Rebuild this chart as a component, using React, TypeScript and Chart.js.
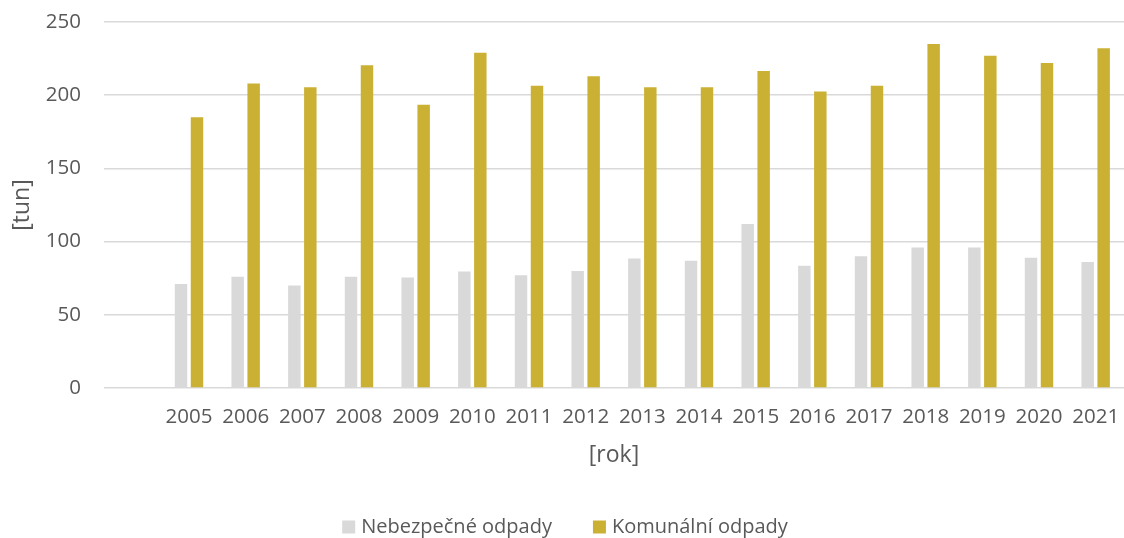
import React, { useEffect, useRef } from "react";
import { Chart, registerables } from "chart.js";

Chart.register(...registerables);

const categories = ["", "2005", "2006", "2007", "2008", "2009", "2010", "2011", "2012", "2013", "2014", "2015", "2016", "2017", "2018", "2019", "2020", "2021"];
const nebezpecne = [null, 71, 76, 70, 76, 75.5, 79.5, 77, 80, 88.5, 87, 112, 83.5, 90, 96, 96, 89, 86];
const komunalni = [null, 185, 208, 205.5, 220.5, 193.5, 229, 206.5, 213, 205.5, 205.5, 216.5, 202.5, 206.5, 235, 227, 222, 232];
const yTicks = [0, 50, 100, 150, 200, 250];

const FONT = "'Open Sans', 'DejaVu Sans', sans-serif";
const TEXT = "#595959";

const bottomLegend = {
  id: "bottomLegend",
  afterDraw(chart: any) {
    const ctx = chart.ctx;
    const size = 20;
    const box = 13;
    const gap = 6;
    const spacing = 41;
    const cy = 527;
    ctx.save();
    ctx.font = `${size}px ${FONT}`;
    ctx.textBaseline = "middle";
    ctx.textAlign = "left";
    const items = chart.data.datasets.map((d: any) => ({
      text: d.label,
      color: d.backgroundColor,
      w: ctx.measureText(d.label).width,
    }));
    const total = items.reduce((a: number, it: any) => a + box + gap + it.w, 0) + spacing * (items.length - 1);
    let x = chart.width / 2 - total / 2 + 3;
    for (const it of items) {
      ctx.fillStyle = it.color;
      ctx.fillRect(x, cy - box / 2, box, box);
      ctx.fillStyle = TEXT;
      ctx.fillText(it.text, x + box + gap, cy);
      x += box + gap + it.w + spacing;
    }
    ctx.restore();
  },
};

export default function App() {
  const ref = useRef<HTMLCanvasElement | null>(null);
  useEffect(() => {
    document.body.style.margin = "0";
    const ctx = ref.current!;
    const chart = new Chart(ctx, {
      type: "bar",
      data: {
        labels: categories,
        datasets: [
          {
            label: "Nebezpečné odpady",
            data: nebezpecne as any,
            backgroundColor: "#d9d9d9",
            categoryPercentage: 0.564,
            barPercentage: 0.78,
          },
          {
            label: "Komunální odpady",
            data: komunalni as any,
            backgroundColor: "#cbb133",
            categoryPercentage: 0.564,
            barPercentage: 0.78,
          },
        ],
      },
      plugins: [bottomLegend],
      options: {
        animation: false,
        responsive: false,
        maintainAspectRatio: false,
        layout: { padding: { top: 22, right: 0, left: 0, bottom: 0 } },
        plugins: {
          tooltip: { enabled: false },
          legend: { display: false },
        },
        scales: {
          x: {
            grid: { display: false, drawTicks: true, tickLength: 17 },
            border: { display: false },
            ticks: { font: { family: FONT, size: 20.5 }, color: TEXT, padding: 0, maxRotation: 0, autoSkip: false },
            title: { display: true, text: "[rok]", font: { family: FONT, size: 23 }, color: TEXT, padding: { top: 0, bottom: 69 } },
            afterFit: (s: any) => { s.height = 150; },
          },
          y: {
            min: 0,
            max: 250,
            afterBuildTicks: (s: any) => { s.ticks = yTicks.map((v) => ({ value: v })); },
            grid: { color: "#d9d9d9", lineWidth: 1.5, drawTicks: true, tickLength: 23, tickColor: "rgba(0,0,0,0)" },
            border: { display: false },
            ticks: { font: { family: FONT, size: 20.5 }, color: TEXT, padding: 0 },
            title: { display: true, text: "[tun]", font: { family: FONT, size: 23 }, color: TEXT, padding: { top: 9, bottom: 0 } },
            afterFit: (s: any) => { s.width = 104; },
          },
        },
      },
    });
    return () => chart.destroy();
  }, []);
  return (
    <div style={{ width: 1124, height: 538 }}>
      <canvas ref={ref} width={1124} height={538} />
    </div>
  );
}
